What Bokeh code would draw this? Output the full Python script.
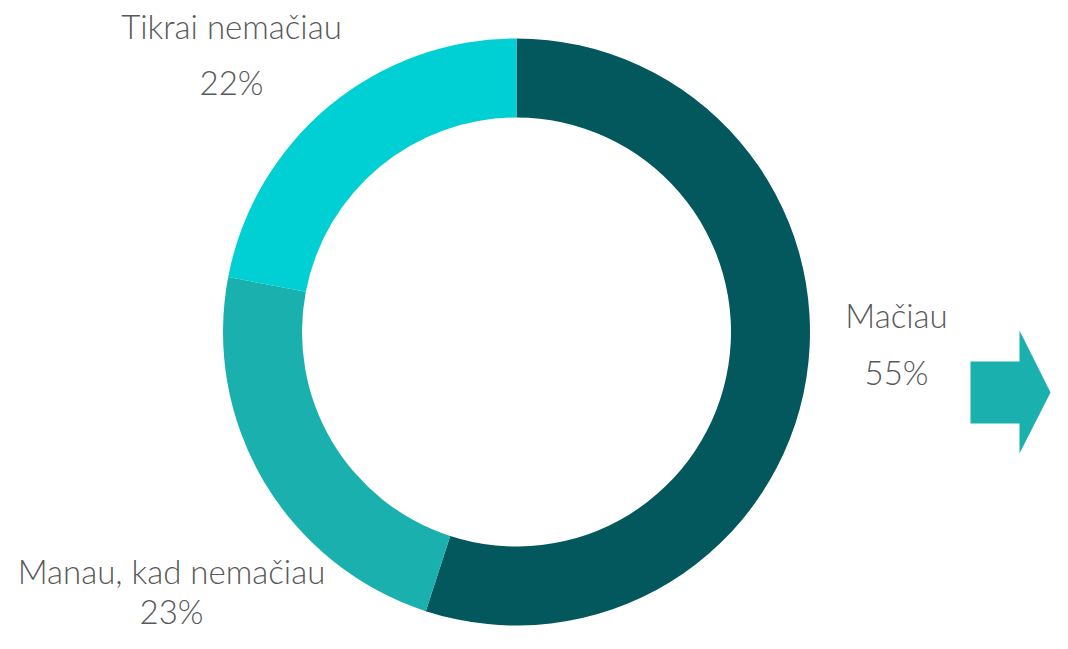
import math
from bokeh.plotting import figure
from bokeh.models import Range1d, ColumnDataSource
from bokeh.core.properties import value
from bokeh.embed import file_html
from bokeh.resources import INLINE

# ---- data ----
categories = ["Mačiau", "Manau, kad nemačiau", "Tikrai nemačiau"]
values = [55, 23, 22]
colors = ["#02585C", "#1AB0AD", "#00CFD4"]

# ---- layout (reference pixel coordinates, y measured from top) ----
FW, FH = 1052, 633
cx, cy = 516, 331.5
r_out, r_in = 293.5, 214.5

label_pos = {  # (x center, baseline of name, baseline of percent)
    "Mačiau": (896, 314, 371),
    "Manau, kad nemačiau": (171, 570, 610),
    "Tikrai nemačiau": (231, 25, 81),
}

arrow_x = [970, 1019, 1019, 1050, 1019, 1019, 970]
arrow_y = [361, 361, 330, 392, 453, 423, 423]

def fy(y):
    return FH - y

p = figure(width=FW, height=FH, output_backend="svg",
           toolbar_location=None, min_border=0, outline_line_color=None,
           x_range=Range1d(0, FW), y_range=Range1d(0, FH))
p.axis.visible = False
p.grid.visible = False
p.background_fill_color = "white"
p.border_fill_color = "white"

total = sum(values)
start = math.pi / 2
starts, ends = [], []
for v in values:
    a = 2 * math.pi * v / total
    starts.append(start - a)
    ends.append(start)
    start -= a

src = ColumnDataSource(dict(start=starts, end=ends, color=colors))
p.annular_wedge(x=cx, y=fy(cy), inner_radius=r_in, outer_radius=r_out,
                start_angle="start", end_angle="end", color="color",
                line_color=None, source=src)

p.patch(list(arrow_x), [fy(y) for y in arrow_y],
        fill_color="#1AB0AD", line_color=None)

tx, ty, tt = [], [], []
for c, v in zip(categories, values):
    x, b1, b2 = label_pos[c]
    tx += [x, x]
    ty += [fy(b1), fy(b2)]
    tt += [c, f"{v}%"]

p.text(x=tx, y=ty, text=tt, text_align="center", text_baseline="alphabetic",
       text_font=value("'Lato Light', 'Open Sans Light', Lato"),
       text_font_size="33px", text_color="#595959")

open("out.html", "w").write(file_html(p, INLINE))
